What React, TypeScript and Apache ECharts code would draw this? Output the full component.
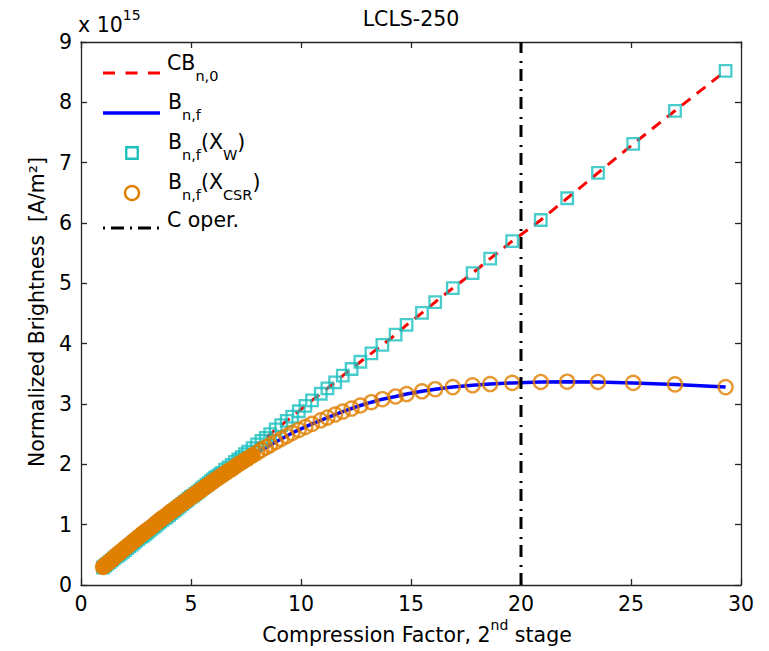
import React, { useEffect, useRef } from "react";
import * as echarts from "echarts";

// Compression factor values of the computed points (2nd stage)
const compression = [
  1.0, 1.1, 1.2, 1.3, 1.4, 1.5, 1.6, 1.7, 1.8, 1.9,
  2.0, 2.1, 2.2, 2.3, 2.4, 2.5, 2.6, 2.7, 2.8, 2.9,
  3.0, 3.1, 3.2, 3.3, 3.4, 3.5, 3.6, 3.7, 3.8, 3.9,
  4.0, 4.1, 4.2, 4.3, 4.4, 4.5, 4.6, 4.7, 4.8, 4.9,
  5.0, 5.1, 5.2, 5.3, 5.4, 5.5, 5.6, 5.7, 5.8, 5.9,
  6.0, 6.1, 6.2, 6.3, 6.4, 6.55, 6.7, 6.85, 7.0, 7.15, 7.3, 7.45, 7.6, 7.8,
  8.0, 8.2, 8.4, 8.6, 8.85, 9.1, 9.35, 9.6, 9.9,
  10.2, 10.5, 10.9, 11.2, 11.55, 11.9, 12.3, 12.7, 13.2, 13.7, 14.3, 14.8,
  15.5, 16.1, 16.9, 17.8, 18.6, 19.6, 20.9, 22.1, 23.5, 25.1, 27.0, 29.3,
];

// C * B_n,0 (red dashed) = B_n,f(X_W) (cyan squares), units of 1e15 A/m^2
const brightnessCB0 = [
  0.29, 0.32, 0.35, 0.38, 0.41, 0.44, 0.47, 0.49, 0.52, 0.55,
  0.58, 0.61, 0.64, 0.67, 0.70, 0.73, 0.76, 0.79, 0.81, 0.84,
  0.87, 0.90, 0.93, 0.96, 0.99, 1.02, 1.05, 1.08, 1.11, 1.13,
  1.16, 1.19, 1.22, 1.25, 1.28, 1.31, 1.34, 1.37, 1.40, 1.43,
  1.46, 1.48, 1.51, 1.54, 1.57, 1.60, 1.63, 1.66, 1.69, 1.72,
  1.75, 1.78, 1.80, 1.83, 1.86, 1.91, 1.95, 1.99, 2.04, 2.08, 2.12, 2.17, 2.21, 2.27,
  2.33, 2.39, 2.44, 2.50, 2.58, 2.65, 2.72, 2.79, 2.88,
  2.97, 3.06, 3.17, 3.26, 3.36, 3.47, 3.58, 3.70, 3.84, 3.98, 4.15, 4.31,
  4.51, 4.69, 4.92, 5.17, 5.41, 5.70, 6.05, 6.41, 6.83, 7.31, 7.86, 8.52,
];

// B_n,f (blue line) = B_n,f(X_CSR) (orange circles)
const brightnessBnf = [
  0.30, 0.33, 0.36, 0.39, 0.42, 0.455, 0.49, 0.52, 0.55, 0.58,
  0.61, 0.64, 0.67, 0.70, 0.73, 0.76, 0.79, 0.82, 0.85, 0.88,
  0.905, 0.93, 0.96, 0.99, 1.02, 1.05, 1.08, 1.11, 1.13, 1.16,
  1.19, 1.22, 1.24, 1.27, 1.30, 1.325, 1.35, 1.38, 1.40, 1.43,
  1.455, 1.48, 1.51, 1.53, 1.56, 1.585, 1.61, 1.64, 1.66, 1.69,
  1.715, 1.74, 1.765, 1.79, 1.815, 1.85, 1.89, 1.92, 1.96, 2.00, 2.03, 2.07, 2.10, 2.15,
  2.19, 2.24, 2.28, 2.32, 2.37, 2.42, 2.47, 2.52, 2.57,
  2.62, 2.67, 2.73, 2.775, 2.825, 2.875, 2.925, 2.975, 3.03, 3.08, 3.125, 3.165,
  3.21, 3.245, 3.28, 3.31, 3.33, 3.35, 3.365, 3.37, 3.365, 3.35, 3.325, 3.28,
];

// Operating compression factor of the 2nd stage
const operatingCompression = 20;
const bandLimit = 7.8; // dense region where markers merge into a band

const xMin = 0;
const xMax = 30;
const xStep = 5;
const yMin = 0;
const yMax = 9;
const yStep = 1;

const FONT = "'DejaVu Sans', 'Liberation Sans', Arial, sans-serif";
const RED = "#ff0000";
const BLUE = "#0000ff";
const CYAN = "#1abfbf";
const ORANGE = "#e08000";

const sub = (main: string, s: string) => `{m|${main}}{s|${s}}`;
const legendRich = {
  m: { fontSize: 20.5, fontFamily: FONT, fill: "#000", lineHeight: 22, padding: [0, 0, 14, 0] },
  s: { fontSize: 14.5, fontFamily: FONT, fill: "#000", lineHeight: 16, padding: [16, 0, 4, 0] },
};
const supRich = {
  m: { fontSize: 20.5, fontFamily: FONT, fill: "#000", lineHeight: 22, padding: [6, 0, 0, 0] },
  e: { fontSize: 14, fontFamily: FONT, fill: "#000", lineHeight: 14, padding: [0, 0, 14, 0] },
};

export default function App() {
  const ref = useRef<HTMLDivElement>(null);

  useEffect(() => {
    if (!ref.current) return;
    const chart = echarts.init(ref.current, undefined, { renderer: "svg" });

    const cbPts = compression.map((c, i) => [c, brightnessCB0[i]]);
    const bnfPts = compression.map((c, i) => [c, brightnessBnf[i]]);
    const bandPts = bnfPts.filter((p) => p[0] <= bandLimit);

    const axisCommon = {
      type: "value" as const,
      axisLine: { show: true, onZero: false, lineStyle: { color: "#262626", width: 1.3 } },
      axisTick: { show: true, inside: true, length: 6, lineStyle: { color: "#262626", width: 1.3 } },
      splitLine: { show: false },
    };

    const legendY = [73, 113, 153, 193, 228];

    chart.setOption({
      animation: false,
      backgroundColor: "#ffffff",
      grid: { left: 81, right: 28, top: 42, bottom: 66, containLabel: false },
      xAxis: [
        {
          ...axisCommon,
          position: "bottom",
          min: xMin,
          max: xMax,
          interval: xStep,
          axisLabel: { fontSize: 20.5, fontFamily: FONT, color: "#000", margin: 8 },
        },
        {
          ...axisCommon,
          position: "top",
          min: xMin,
          max: xMax,
          interval: xStep,
          axisLabel: { show: false },
        },
      ],
      yAxis: [
        {
          ...axisCommon,
          position: "left",
          min: yMin,
          max: yMax,
          interval: yStep,
          axisLabel: { fontSize: 20.5, fontFamily: FONT, color: "#000", margin: 9 },
        },
        {
          ...axisCommon,
          position: "right",
          min: yMin,
          max: yMax,
          interval: yStep,
          axisLabel: { show: false },
        },
      ],
      series: [
        {
          name: "CB n,0",
          type: "line",
          data: cbPts,
          showSymbol: false,
          symbol: "none",
          z: 2,
          lineStyle: { color: RED, width: 3, type: [11, 8] },
        },
        {
          name: "B n,f",
          type: "line",
          data: bnfPts,
          showSymbol: false,
          symbol: "none",
          z: 3,
          lineStyle: { color: BLUE, width: 3.5 },
        },
        {
          name: "B n,f (X W)",
          type: "scatter",
          data: cbPts,
          symbol: "rect",
          symbolSize: 11.5,
          z: 4,
          itemStyle: { color: "rgba(255,255,255,0)", borderColor: CYAN, borderWidth: 2.3 },
        },
        {
          name: "B n,f (X CSR) band",
          type: "line",
          data: bandPts,
          showSymbol: false,
          symbol: "none",
          silent: true,
          z: 5,
          lineStyle: { color: ORANGE, width: 15, cap: "round", join: "round" },
        },
        {
          name: "B n,f (X CSR)",
          type: "scatter",
          data: bnfPts,
          symbol: "circle",
          symbolSize: 14,
          z: 6,
          itemStyle: { color: "rgba(255,255,255,0)", borderColor: ORANGE, borderWidth: 2.4 },
        },
        {
          name: "C oper.",
          type: "line",
          data: [
            [operatingCompression, yMin],
            [operatingCompression, yMax],
          ],
          showSymbol: false,
          symbol: "none",
          z: 7,
          lineStyle: { color: "#000", width: 3, type: [12, 6, 2, 8] },
        },
      ],
      graphic: [
        // title
        {
          type: "text",
          x: 411,
          y: 19,
          style: {
            text: "LCLS-250",
            fontSize: 20.5,
            fontFamily: FONT,
            fill: "#000",
            align: "center",
            verticalAlign: "middle",
          },
        },
        // exponent
        {
          type: "text",
          x: 78,
          y: 11,
          style: { text: "{m|x 10}{e|15}", align: "left", verticalAlign: "top", rich: supRich },
        },
        // y axis title
        {
          type: "text",
          x: 37,
          y: 312,
          rotation: Math.PI / 2,
          style: {
            text: "Normalized Brightness  [A/m²]",
            fontSize: 20.5,
            fontFamily: FONT,
            fill: "#000",
            align: "center",
            verticalAlign: "middle",
          },
        },
        // x axis title
        {
          type: "text",
          x: 417,
          y: 621,
          style: {
            text: "{m|Compression Factor, 2}{e|nd}{m| stage}",
            align: "center",
            verticalAlign: "top",
            rich: supRich,
          },
        },
        // legend
        {
          type: "line",
          shape: { x1: 103, y1: legendY[0], x2: 160, y2: legendY[0] },
          style: { stroke: RED, lineWidth: 3, lineDash: [12, 10.5] },
        },
        {
          type: "line",
          shape: { x1: 103, y1: legendY[1], x2: 160, y2: legendY[1] },
          style: { stroke: BLUE, lineWidth: 3.5 },
        },
        {
          type: "rect",
          shape: { x: 132 - 5.75, y: legendY[2] - 5.75, width: 11.5, height: 11.5 },
          style: { fill: "none", stroke: CYAN, lineWidth: 2.3 },
        },
        {
          type: "circle",
          shape: { cx: 132, cy: legendY[3], r: 7 },
          style: { fill: "none", stroke: ORANGE, lineWidth: 2.4 },
        },
        {
          type: "line",
          shape: { x1: 103, y1: legendY[4], x2: 160, y2: legendY[4] },
          style: { stroke: "#000", lineWidth: 3, lineDash: [2, 6, 13, 6] },
        },
        {
          type: "text",
          x: 167,
          y: 59,
          style: { text: sub("CB", "n,0"), align: "left", verticalAlign: "top", rich: legendRich },
        },
        {
          type: "text",
          x: 168,
          y: 98,
          style: { text: sub("B", "n,f"), align: "left", verticalAlign: "top", rich: legendRich },
        },
        {
          type: "text",
          x: 168,
          y: 138,
          style: {
            text: sub("B", "n,f") + sub("(X", "W") + "{m|)}",
            align: "left",
            verticalAlign: "top",
            rich: legendRich,
          },
        },
        {
          type: "text",
          x: 168,
          y: 178,
          style: {
            text: sub("B", "n,f") + sub("(X", "CSR") + "{m|)}",
            align: "left",
            verticalAlign: "top",
            rich: legendRich,
          },
        },
        {
          type: "text",
          x: 167,
          y: 216,
          style: { text: "{m|C oper.}", align: "left", verticalAlign: "top", rich: legendRich },
        },
      ],
    });

    return () => chart.dispose();
  }, []);

  return <div ref={ref} style={{ width: 769, height: 651, position: "absolute", left: 0, top: 0 }} />;
}
